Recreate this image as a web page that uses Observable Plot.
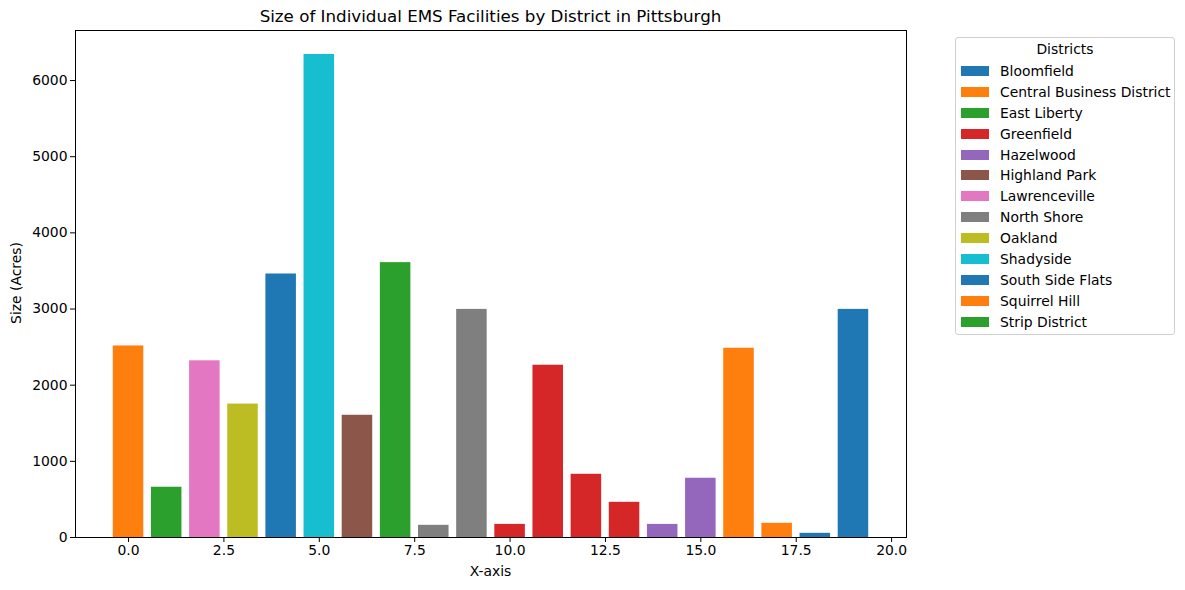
<!DOCTYPE html>
<html>
<head>
<meta charset="utf-8">
<script src="https://cdn.jsdelivr.net/npm/d3@7"></script>
<script src="https://cdn.jsdelivr.net/npm/@observablehq/plot@0.6"></script>
<style>
  html, body { margin: 0; padding: 0; background: #fff; }
  #wrap { position: relative; width: 1185px; height: 590px; font-family: "DejaVu Sans", sans-serif; color: #000; }
  #wrap svg { position: absolute; left: 0; top: 0; }
  .title { position: absolute; left: 75px; width: 831px; top: 6px; text-align: center; font-size: 16.7px; }
  .xlabel { position: absolute; left: 75px; width: 831px; top: 563px; text-align: center; font-size: 13.9px; }
  .ylabel { position: absolute; left: 16px; top: 283px; transform: translate(-50%, -50%) rotate(-90deg); font-size: 13.9px; white-space: nowrap; }
  .legend { position: absolute; left: 955px; top: 37px; width: 220px; height: 298px; border: 1px solid #d0d0d0; border-radius: 3px; box-sizing: border-box; font-size: 13.9px; }
  .legend .lt { text-align: center; margin-top: 2px; height: 21px; line-height: 18px; }
  .legend .row { position: relative; height: 20.9px; }
  .legend .sw { position: absolute; left: 5px; top: 5px; width: 28px; height: 10px; }
  .legend .lab { position: absolute; left: 44px; top: 0px; line-height: 20px; white-space: nowrap; }
</style>
</head>
<body>
<div id="wrap"></div>
<script>
const districts = ["Bloomfield", "Central Business District", "East Liberty", "Greenfield", "Hazelwood", "Highland Park", "Lawrenceville", "North Shore", "Oakland", "Shadyside", "South Side Flats", "Squirrel Hill", "Strip District"];
const districtColors = ["#1f77b4", "#ff7f0e", "#2ca02c", "#d62728", "#9467bd", "#8c564b", "#e377c2", "#7f7f7f", "#bcbd22", "#17becf", "#1f77b4", "#ff7f0e", "#2ca02c"];
const barDistricts = ["Central Business District", "East Liberty", "Lawrenceville", "Oakland", "Bloomfield", "Shadyside", "Highland Park", "Strip District", "North Shore", "North Shore", "Greenfield", "Greenfield", "Greenfield", "Greenfield", "Hazelwood", "Hazelwood", "Squirrel Hill", "Squirrel Hill", "South Side Flats", "South Side Flats"];
const barSizes = [2515, 660, 2320, 1752, 3460, 6342, 1605, 3609, 160, 2995, 172, 2262, 830, 462, 172, 778, 2485, 186, 55, 2995];
const xTicks = [0, 2.5, 5, 7.5, 10, 12.5, 15, 17.5, 20];
const yTicks = [0, 1000, 2000, 3000, 4000, 5000, 6000];

const data = barSizes.map((v, i) => ({x: i, value: v, district: barDistricts[i]}));

const wrap = document.getElementById("wrap");
const chart = Plot.plot({
  width: 1185,
  height: 590,
  marginLeft: 75,
  marginRight: 279,
  marginTop: 30,
  marginBottom: 53,
  style: {fontFamily: "DejaVu Sans, sans-serif", fontSize: "13.9px", color: "#000", background: "transparent"},
  x: {domain: [-1.39, 20.39]},
  y: {domain: [0, 6657]},
  color: {type: "ordinal", domain: districts, range: districtColors},
  marks: [
    Plot.rectY(data, {x1: d => d.x - 0.4, x2: d => d.x + 0.4, y: "value", fill: "district", inset: 0}),
    Plot.axisX({ticks: xTicks, tickFormat: d3.format(".1f"), tickSize: 5, tickPadding: 3, label: null, stroke: "#000", fontSize: 13.9}),
    Plot.axisY({ticks: yTicks, tickFormat: d => String(d), tickSize: 5, tickPadding: 3, label: null, stroke: "#000", fontSize: 13.9}),
    Plot.frame({stroke: "#000", strokeWidth: 1})
  ]
});
wrap.appendChild(chart);

const add = (cls, text) => { const d = document.createElement("div"); d.className = cls; d.textContent = text; wrap.appendChild(d); return d; };
add("title", "Size of Individual EMS Facilities by District in Pittsburgh");
add("xlabel", "X-axis");
add("ylabel", "Size (Acres)");

const leg = document.createElement("div");
leg.className = "legend";
const lt = document.createElement("div"); lt.className = "lt"; lt.textContent = "Districts"; leg.appendChild(lt);
districts.forEach((name, i) => {
  const row = document.createElement("div"); row.className = "row";
  const sw = document.createElement("div"); sw.className = "sw"; sw.style.background = districtColors[i];
  const lab = document.createElement("div"); lab.className = "lab"; lab.textContent = name;
  row.appendChild(sw); row.appendChild(lab); leg.appendChild(row);
});
wrap.appendChild(leg);
</script>
</body>
</html>
